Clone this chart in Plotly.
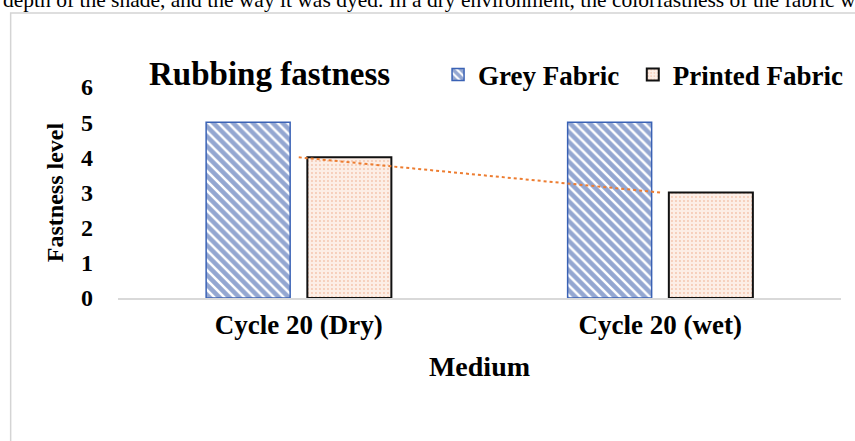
import plotly.graph_objects as go

categories = ["Cycle 20 (Dry)", "Cycle 20 (wet)"]
grey_fabric = [5, 5]
printed_fabric = [4, 3]
y_ticks = [0, 1, 2, 3, 4, 5, 6]

W, H = 855, 441
L, R, T, B = 117.5, 13.5, 87, 143
PW, PH = W - L - R, H - T - B

def px_x(px):
    return (px - L) / PW

def px_y(py):
    return (H - B - py) / PH

FONT = "Liberation Serif"
LEG_FONT = dict(family=FONT, size=27, color="black", weight="bold")

fig = go.Figure()
fig.add_trace(go.Bar(
    name="Grey Fabric", x=categories, y=grey_fabric, legend="legend",
    marker=dict(color="white", line=dict(color="#3A62B5", width=1.5),
                pattern=dict(shape="\\", fgcolor="#2A4FA3", bgcolor="white",
                             size=7, solidity=0.65)),
))
fig.add_trace(go.Bar(
    name="Printed Fabric", x=categories, y=printed_fabric, legend="legend2",
    marker=dict(color="#FCEFE7", line=dict(color="#111111", width=2),
                pattern=dict(shape=".", fgcolor="#EC9C74", bgcolor="#FCEEE6",
                             size=4, solidity=0.18)),
))
fig.add_trace(go.Scatter(
    x=categories, y=printed_fabric, mode="lines",
    line=dict(color="#ED7D31", width=2, dash="dot"),
    showlegend=False, hoverinfo="skip",
))

fig.update_layout(
    width=W, height=H,
    margin=dict(l=L, r=R, t=T, b=B, autoexpand=False),
    paper_bgcolor="white", plot_bgcolor="white",
    barmode="group", bargap=0.44, bargroupgap=0.17,
    font=dict(family=FONT, color="black", size=24, weight="bold"),
    title=dict(text="Rubbing fastness", xref="container", yref="container",
               x=149 / W, y=1 - 73 / H, xanchor="left", yanchor="middle",
               font=dict(family=FONT, size=33, color="black", weight="bold")),
    legend=dict(orientation="h", xref="paper", yref="container",
                x=px_x(438), y=1 - 75 / H, xanchor="left", yanchor="middle",
                font=LEG_FONT, itemwidth=30,
                bgcolor="rgba(0,0,0,0)", borderwidth=0),
    legend2=dict(orientation="h", xref="paper", yref="container",
                 x=px_x(633), y=1 - 75 / H, xanchor="left", yanchor="middle",
                 font=LEG_FONT, itemwidth=30,
                 bgcolor="rgba(0,0,0,0)", borderwidth=0),
    showlegend=True,
)
fig.update_xaxes(
    showline=True, linecolor="#D9D9D9", linewidth=1.5, showgrid=False,
    ticks="", ticklabelstandoff=2,
    tickfont=dict(family=FONT, size=27, color="black", weight="bold"),
    title=dict(text="Medium", font=dict(family=FONT, size=28, color="black", weight="bold"),
               standoff=17),
)
fig.update_yaxes(
    range=[0, 6], tickvals=y_ticks, showgrid=False, showline=False, zeroline=False,
    ticks="", ticklabelstandoff=24,
    tickfont=dict(family=FONT, size=24, color="black", weight="bold"),
    title=dict(text="Fastness level", font=dict(family=FONT, size=24, color="black", weight="bold"),
               standoff=10),
)

# page frame around the figure
fig.add_shape(type="rect", xref="paper", yref="paper",
              x0=px_x(10), x1=px_x(870), y0=px_y(460), y1=px_y(13),
              line=dict(color="#D4D4D4", width=1.5), fillcolor="rgba(0,0,0,0)", layer="below")

# cut-off body text above the figure
fig.add_annotation(
    text="depth of the shade, and the way it was dyed. In a dry environment, the colorfastness of the fabric w",
    xref="paper", yref="paper", x=px_x(0), y=px_y(14), xanchor="left", yanchor="bottom",
    showarrow=False, font=dict(family=FONT, size=21.5, color="black", weight="normal"),
)

fig.write_html("out.html", config={"displayModeBar": False},
               post_script="document.body.style.margin='0';")
